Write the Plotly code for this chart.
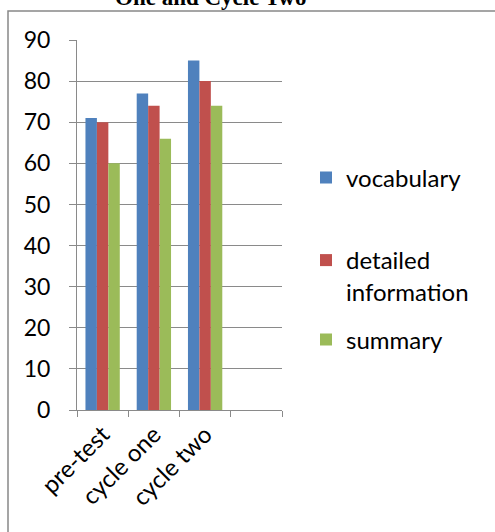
import plotly.graph_objects as go

# ---- data ----
categories = ["pre-test", "cycle one", "cycle two", " "]
vocabulary = [71, 77, 85, None]
detailed_information = [70, 74, 80, None]
summary = [60, 66, 74, None]
series_names = ["vocabulary", "detailed<br>information", "summary"]
series_colors = ["#4F81BD", "#C0504D", "#9BBB59"]
y_tick_values = [0, 10, 20, 30, 40, 50, 60, 70, 80, 90]
title_text = "One and Cycle Two"

W, H = 495, 532
L, R, T, B = 77, 213, 40, 122
pw = W - L - R
ph = H - T - B

def px_x(x):
    return (x - L) / pw

def px_y(y):
    return (H - B - y) / ph

FONT = "Lato"
GRID = "#8a8a8a"

fig = go.Figure()
series = [vocabulary, detailed_information, summary]
legend_ids = ["legend", "legend2", "legend3"]
for name, vals, col, lg in zip(series_names, series, series_colors, legend_ids):
    fig.add_trace(go.Bar(
        x=categories, y=vals, name=name,
        marker=dict(color=col, line=dict(width=0)),
        legend=lg,
    ))

legend_common = dict(
    xanchor="left", yanchor="middle", bgcolor="rgba(0,0,0,0)",
    font=dict(family=FONT, size=24, color="#000"),
    valign="top",
)

fig.update_layout(
    width=W, height=H, autosize=False,
    margin=dict(l=L, r=R, t=T, b=B, pad=0),
    paper_bgcolor="white", plot_bgcolor="white",
    barmode="group", bargap=0.33, bargroupgap=0,
    showlegend=True,
    legend=dict(x=px_x(306), y=px_y(178), **legend_common),
    legend2=dict(x=px_x(306), y=px_y(276), **legend_common),
    legend3=dict(x=px_x(306), y=px_y(340), **legend_common),
    font=dict(family=FONT, size=23, color="#000"),
    xaxis=dict(
        type="category", categoryorder="array", categoryarray=categories,
        range=[-0.5, len(categories) - 0.5],
        showline=True, linecolor=GRID, linewidth=1,
        ticks="outside", ticklen=6, tickcolor=GRID, tickwidth=1,
        tickson="boundaries", tickangle=-45,
        showgrid=False, zeroline=False,
        tickfont=dict(family=FONT, size=24, color="#000"),
        ticklabelstandoff=0,
    ),
    yaxis=dict(
        range=[0, 90], tickvals=y_tick_values,
        showline=True, linecolor=GRID, linewidth=1,
        ticks="outside", ticklen=7, tickcolor=GRID, tickwidth=1,
        showgrid=True, gridcolor=GRID, gridwidth=1,
        zeroline=False,
        tickfont=dict(family=FONT, size=23, color="#000"),
        ticklabelstandoff=14,
    ),
    shapes=[dict(
        type="rect", xref="paper", yref="paper",
        x0=px_x(8), x1=px_x(W + 20), y0=px_y(H + 20), y1=px_y(11),
        line=dict(color="#888888", width=1.5), fillcolor="rgba(0,0,0,0)",
        layer="below",
    )],
    annotations=[dict(
        text="<b>" + title_text + "</b>", xref="paper", yref="paper",
        x=px_x(210), y=px_y(12), xanchor="center", yanchor="bottom",
        showarrow=False,
        font=dict(family="Liberation Serif", size=23, color="#000"),
    )],
)

fig.write_html("out.html")
